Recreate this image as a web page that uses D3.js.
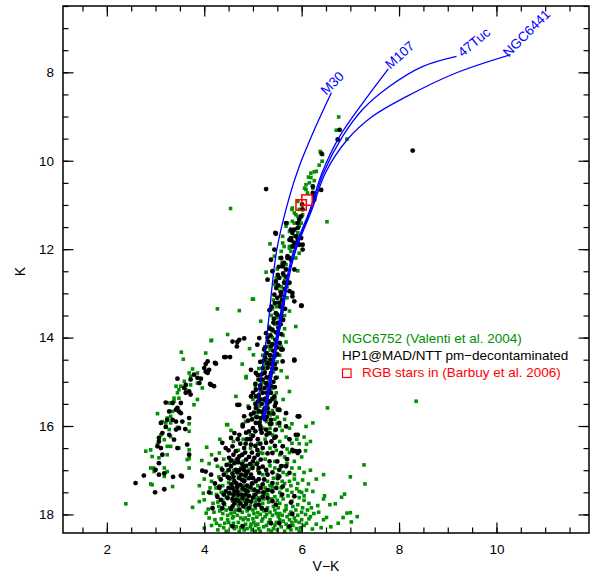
<!DOCTYPE html>
<meta charset="utf-8">
<script src="https://d3js.org/d3.v7.min.js"></script>
<html>
<head>
<style>
body { margin: 0; background: #fff; }
text { font-family: "Liberation Sans", Arial, sans-serif; }
</style>
</head>
<body>
<svg id="cmd" width="595" height="573"></svg>
<script>

// ---- data: [V-K, K] ----

// NGC6752 (Valenti et al. 2004), green
var ngc6752 = [
  [4.54,11.08],[6.52,11.38],[5.92,12.49],[8.35,15.44],[6.76,9.01],[6.71,9.31],[6.93,9.51],[6.38,9.79],
  [6.43,9.86],[6.36,10.10],[6.19,10.28],[6.26,10.25],[6.19,10.38],[6.09,10.54],[6.16,10.50],[6.06,10.62],
  [6.23,10.62],[6.12,10.73],[6.42,10.01],[6.30,10.24],[6.14,10.37],[6.26,10.45],[6.09,10.65],[5.92,10.92],
  [5.81,11.07],[5.95,11.10],[5.88,11.22],[6.02,11.22],[5.81,11.37],[5.71,11.41],[5.99,11.41],[5.68,11.48],
  [5.75,11.60],[5.61,11.71],[5.85,11.71],[5.92,11.63],[5.35,11.88],[5.61,11.86],[5.64,11.94],[5.75,11.98],
  [5.58,12.05],[5.78,12.05],[5.95,12.09],[5.44,12.16],[5.88,12.20],[5.80,11.10],[5.85,11.18],[5.92,11.26],
  [5.85,11.41],[5.95,11.48],[5.92,11.67],[5.81,11.82],[5.92,11.86],[5.75,11.94],[5.85,11.94],
  [5.27,12.52],[5.01,13.13],[4.72,13.39],[5.16,13.63],[4.48,13.93],[5.01,14.39],[5.23,14.61],[4.86,14.91],
  [5.75,15.22],[4.65,15.33],[6.53,15.59],[6.23,15.93],[6.09,16.01],[4.46,15.97],[4.99,13.13],[4.27,13.35],
  [5.88,13.75],[5.60,12.30],[5.50,12.45],[5.65,12.70],[5.45,12.80],[5.55,12.95],[5.70,13.10],[5.42,13.15],
  [5.60,13.40],[5.48,13.30],[5.38,13.50],[5.55,13.55],[5.65,13.80],[5.45,13.70],[5.33,13.75],[5.50,13.95],
  [5.40,14.00],[5.58,14.20],[5.30,14.20],[5.47,14.35],[5.38,14.40],[5.20,14.40],[5.50,14.55],[5.32,14.62],
  [5.42,14.78],[5.25,14.75],[5.12,14.70],[5.50,14.90],[5.33,14.95],[5.20,15.02],[5.10,14.95],[5.40,15.15],
  [5.30,15.30],[5.18,15.20],[5.05,15.10],[5.00,15.40],[5.14,15.55],[5.30,15.55],[5.40,15.65],[4.90,15.55],
  [5.05,15.80],[5.28,15.90],[5.50,15.80],[4.85,15.90],[5.62,15.40],[5.70,14.90],[5.68,14.10],[5.75,13.40],
  [4.93,14.25],[4.78,14.60],
  [5.55,16.00],[5.15,15.90],[5.45,15.85],[5.22,15.65],[5.35,15.75],[5.55,15.65],[5.08,15.60],[5.25,15.45],
  [5.45,15.40],[5.12,15.35],[5.35,15.05],[5.48,15.25],[5.15,14.85],[5.58,14.75],[5.40,14.50],[5.28,14.50],
  [5.55,14.40],[5.45,14.15],[5.35,14.28],[5.62,13.95],[5.40,13.85],[5.55,13.65],[5.48,13.55],[5.65,13.50],
  [5.52,13.20],[5.62,13.25],[5.40,13.35],[5.58,12.85],[5.70,12.85],[5.48,12.65],[5.62,12.60],[5.55,12.20],
  [5.68,12.35],
  [3.53,14.33],[3.57,14.49],[4.03,14.35],[4.14,14.07],[3.76,14.71],[3.69,14.80],[3.86,14.80],[3.72,14.88],
  [3.86,15.03],[3.96,15.14],[3.59,14.99],[3.52,15.10],[3.42,15.10],[3.48,15.18],[3.62,15.18],[3.72,15.07],
  [3.45,15.25],[3.48,15.37],[3.38,15.37],[3.38,15.44],[3.86,15.40],[3.79,15.52],[3.28,15.48],[3.04,15.72],
  [3.35,15.67],[3.31,15.78],[3.24,15.82],[3.14,15.90],[3.21,15.93],[3.31,15.93],[3.28,16.08],[3.11,16.20],
  [3.18,16.31],[3.31,16.24],[3.04,16.42],[2.90,16.54],[2.80,16.57],[3.24,16.46],[3.31,16.46],[3.48,16.50],
  [3.69,16.54],[3.69,16.74],[3.24,16.65],[3.07,16.72],[2.93,16.69],[2.90,16.95],[2.96,16.95],[3.18,16.95],
  [3.24,17.03],[3.18,17.14],[2.93,17.33],[3.35,17.37],[3.69,16.95],[2.39,17.76],[3.45,16.03],[3.69,16.12],
  [3.69,15.95],[4.15,14.06],[4.86,14.88],[3.65,16.76],[2.90,17.31],[2.97,17.03],
  [4.31,16.61],[4.48,15.97],[4.32,16.30],[4.15,16.65],[4.05,16.48],[4.60,16.35],[5.55,16.35],[5.70,16.52],
  [5.95,16.40],[6.10,16.41],[6.08,16.56],[6.18,16.35],[5.80,16.39],[5.65,16.70],[5.85,16.80],[4.27,16.91],
  [4.10,16.85],[3.95,16.78],[6.05,16.25],[5.35,16.50],[4.95,16.50],[5.10,16.40],[4.70,16.55],
  [6.18,17.00],[7.28,16.88],[7.00,17.15],[7.30,17.31],[6.14,17.31],[6.05,17.05],[5.95,16.95],[5.85,17.20],
  [5.70,17.10],[5.60,17.25],[5.45,16.95],[5.30,17.25],[5.10,17.00],[4.92,16.98],[4.60,17.00],[4.45,17.05],
  [4.30,17.15],[4.15,17.25],[4.00,17.20],[3.90,17.35],[6.30,17.20],[6.45,17.10],[5.78,17.35],[5.50,17.10],
  [4.85,17.20],[4.50,17.28],[4.24,17.40],[4.14,17.52],[4.00,17.67],[3.90,17.71],[3.76,17.84],[4.04,17.97],
  [4.10,18.08],[4.00,18.31],
  [6.10,17.45],[6.23,17.48],[6.47,17.58],[6.45,17.65],[6.88,17.54],[6.82,17.61],[6.00,17.50],[5.90,17.42],
  [5.80,17.50],[5.70,17.45],[5.62,17.65],[5.55,17.50],[5.45,17.60],[5.35,17.45],[5.25,17.55],[5.15,17.50],
  [5.08,17.65],[4.98,17.45],[4.88,17.62],[4.76,17.45],[4.68,17.62],[4.55,17.42],[4.45,17.60],[4.35,17.50],
  [4.28,17.72],[4.42,17.78],[4.58,17.70],[4.70,17.80],[4.82,17.70],[4.95,17.80],[5.05,17.72],[5.20,17.75],
  [5.32,17.72],[5.42,17.82],[5.55,17.75],[5.68,17.80],[5.80,17.70],[5.92,17.78],[6.05,17.68],[6.15,17.75],
  [6.33,17.80],[6.58,17.78],[6.69,17.76],[6.05,17.58],[5.95,17.62],[5.10,17.35],[5.00,17.30],[4.80,17.35],
  [4.65,17.40],
  [4.20,17.95],[4.32,17.92],[4.45,17.90],[4.55,17.98],[4.65,17.90],[4.78,17.95],[4.88,17.92],[5.00,17.90],
  [5.10,17.96],[5.22,17.92],[5.35,17.95],[5.45,17.90],[5.55,17.98],[5.65,17.92],[5.78,17.95],[5.88,17.90],
  [6.00,17.95],[6.12,17.90],[6.25,17.98],[6.51,18.07],[6.45,18.12],[6.93,17.97],[7.00,17.96],[6.85,18.07],
  [7.14,18.05],[7.02,18.17],[6.75,18.20],[6.60,18.28],[6.30,18.22],[6.10,18.20],[6.15,18.10],[6.00,18.12],
  [6.05,18.25],[5.98,18.30],[4.25,18.20],[4.35,18.10],[4.40,18.30],[4.50,18.18],[4.58,18.08],[4.62,18.32],
  [4.70,18.18],[4.75,18.08],[4.82,18.35],[4.90,18.12],[4.95,18.28],[5.02,18.18],[5.08,18.06],[5.12,18.32],
  [5.18,18.15],[5.25,18.05],[5.28,18.25],[5.35,18.12],[5.42,18.32],[5.48,18.18],[5.52,18.05],[5.58,18.28],
  [5.62,18.15],[5.70,18.05],[5.72,18.30],[5.80,18.18],[5.85,18.08],[5.90,18.32],[5.95,18.18],[4.15,18.25],
  [4.28,18.35],[4.55,18.25],[4.85,18.22],[5.05,18.38],[5.38,18.38],[5.65,18.38],[4.72,18.38],
  [4.30,17.82],[4.38,17.98],[4.48,18.02],[4.52,17.85],[4.62,17.95],[4.68,18.02],[4.72,17.88],[4.85,17.85],
  [4.92,18.02],[5.02,17.98],[5.05,17.86],[5.15,18.00],[5.18,17.88],[5.28,18.00],[5.30,17.85],[5.40,18.02],
  [5.48,17.98],[5.52,17.85],[5.60,18.02],[5.68,17.88],[5.75,18.00],[5.82,17.82],[5.92,18.02],[6.02,17.85],
  [6.08,18.00],[6.20,17.85],[6.35,17.95],[6.40,18.30],[6.22,18.33],[6.18,18.05],[4.22,18.12],[4.32,18.25],
  [4.45,18.38],[4.48,18.12],[4.60,18.20],[4.66,18.28],[4.78,18.25],[4.80,18.12],[4.88,18.32],[4.98,18.35],
  [5.00,18.10],[5.10,18.22],[5.15,18.38],[5.22,18.28],[5.32,18.35],[5.32,18.18],[5.45,18.25],[5.50,18.35],
  [5.55,18.12],[5.68,18.22],[5.78,18.35],[5.82,18.25],[5.88,18.15],[5.95,18.38],[5.75,18.12],[4.38,17.68],
  [4.50,17.55],[4.62,17.55],[4.74,17.65],[4.90,17.70],[5.02,17.55],[5.12,17.62],[5.22,17.65],[5.30,17.55],
  [5.38,17.65],[5.50,17.68],[5.58,17.58],[5.72,17.58],[5.85,17.58],[5.95,17.48],[5.40,17.38],[5.25,17.40],
  [5.58,17.40],[5.75,17.25],[5.92,17.30],[6.02,17.22],[4.38,17.35],[4.25,17.55],[4.18,17.75],[4.08,17.88],
  [4.12,17.40],[3.98,17.52],[5.42,17.18],[5.28,17.05],[5.62,17.05],[5.80,16.95],[5.70,16.85],[4.40,16.75],
  [4.35,16.95],[4.52,16.85],[5.10,16.82],[5.20,16.62],[5.48,16.55],[5.62,16.45],[5.68,16.25],[5.45,16.10],
  [5.30,16.15],[4.60,18.05],[4.84,18.08],[4.96,18.22],[5.20,18.10],[4.42,18.20],[4.75,18.30],[5.05,18.25],
  [4.60,16.78],[4.80,16.80],[5.00,16.90],[4.70,17.15],[4.90,17.40],[4.55,17.20],[5.20,17.10],[4.75,16.95],
  [5.15,16.60],[5.25,16.30],[5.40,16.20],[5.60,16.10],[5.50,15.95],[5.35,16.05],[5.75,16.05],[5.20,16.05],
  [5.65,15.85],[5.80,15.95],[5.10,15.70],[4.95,16.20],[4.80,16.30],[4.55,16.10],[5.55,16.65],[5.45,16.80],
  [5.35,16.90],[5.25,16.75],[5.60,16.90],[5.75,16.60],[6.00,16.70],[5.90,16.30],[5.50,17.30],[5.35,17.35],
  [5.65,17.30],[5.85,17.10]
];

// HP1 @ MAD/NTT, proper-motion decontaminated, black
var hp1 = [
  [8.28,9.77],[5.27,10.64],[6.78,9.30],[6.74,9.52],[6.41,9.84],[6.40,10.66],[6.23,10.73],[6.26,10.81],
  [6.23,10.58],[6.26,10.88],[6.01,10.99],[6.02,11.10],[5.99,11.26],[5.95,11.33],[5.92,11.41],[5.85,11.56],
  [5.92,11.52],[5.78,11.56],[5.81,11.63],[5.78,11.75],[5.88,11.71],[5.99,11.75],[6.02,11.90],[5.85,11.86],
  [6.02,12.01],[5.95,11.90],[5.81,11.94],[5.92,11.79],[5.78,11.79],[5.47,11.65],[5.44,12.01],[5.46,11.63],
  [5.68,11.41],[5.75,11.79],[5.71,12.16],[5.64,12.31],[5.61,12.39],[5.54,12.65],[5.47,12.73],[5.30,12.69],
  [5.68,12.62],[5.85,12.46],[5.78,12.24],[5.75,12.20],[5.71,12.20],[5.75,12.76],[5.37,12.24],[5.58,12.20],
  [5.51,12.58],[5.68,12.46],[5.61,12.35],[5.64,12.76],[5.75,12.95],[5.81,13.07],[5.85,13.18],[5.99,13.28],
  [5.44,13.03],[5.34,13.38],[5.54,13.22],[5.58,13.52],[5.51,13.67],[5.40,13.82],[5.27,13.90],[5.13,14.01],
  [4.82,14.02],[4.58,14.09],[4.67,14.20],[4.44,14.44],[4.53,14.44],[5.09,14.16],[5.23,14.27],[5.37,14.20],
  [5.61,14.27],[5.85,14.50],[5.44,14.43],[5.30,14.58],[5.20,14.69],[4.96,14.73],[5.06,14.80],[5.37,14.80],
  [5.47,14.91],[5.13,14.95],[5.27,15.03],[5.37,15.10],[5.06,15.18],[5.20,15.25],[5.44,15.33],[4.96,15.33],
  [4.68,15.52],[5.30,15.48],[5.06,15.59],[5.51,15.63],[4.82,15.78],[5.16,15.82],[5.37,15.86],[5.95,15.78],
  [5.81,12.99],[5.61,14.54],[5.58,14.27],[6.00,13.28],
  [5.50,13.10],[5.56,13.30],[5.47,13.45],[5.62,13.60],[5.43,13.58],[5.52,13.78],[5.58,13.92],[5.36,13.95],
  [5.46,14.05],[5.55,14.12],[5.32,14.10],[5.42,14.30],[5.50,14.38],[5.28,14.35],[5.36,14.50],[5.45,14.60],
  [5.22,14.52],[5.30,14.68],[5.40,14.70],[5.18,14.83],[5.28,14.90],[5.42,15.00],[5.15,15.08],[5.24,15.14],
  [5.33,15.20],[5.12,15.30],[5.26,15.38],[5.35,15.44],[5.18,15.50],[5.10,15.45],[5.24,15.60],[5.32,15.70],
  [5.02,15.70],[5.12,15.66],[5.22,15.76],[5.45,15.55],[5.57,13.05],[5.65,12.90],[5.48,12.88],[5.58,12.98],
  [5.40,12.50],[5.53,12.40],[5.62,12.55],
  [5.52,12.82],[5.60,13.15],[5.45,13.22],[5.38,13.30],[5.66,13.35],[5.50,13.48],[5.42,13.66],[5.57,13.70],
  [5.35,13.80],[5.47,13.88],[5.30,14.00],[5.40,14.15],[5.50,14.22],[5.25,14.22],[5.35,14.40],[5.25,14.45],
  [5.15,14.55],[5.38,14.60],[5.47,14.70],[5.24,14.80],[5.10,14.85],[5.35,14.88],[5.20,14.95],[5.30,15.08],
  [5.05,15.05],[5.45,15.12],[5.15,15.15],[5.28,15.25],[5.00,15.25],[5.40,15.38],[5.15,15.40],[5.05,15.50],
  [5.30,15.60],[5.18,15.68],[5.42,15.72],[5.08,15.80],[5.28,15.80],[4.98,15.85],[5.38,15.95],[5.15,16.00],
  [5.05,16.12],[5.28,16.20],[4.95,16.30],[5.38,16.35],[5.15,16.40],[4.85,16.40],[5.05,16.45],
  [4.41,14.44],[4.24,14.59],[4.07,14.54],[4.00,14.69],[4.07,14.80],[4.03,14.77],[4.10,14.73],[4.14,15.07],
  [4.20,15.10],[3.79,14.84],[3.86,14.91],[3.93,14.93],[3.72,14.95],[3.45,14.93],[3.62,15.07],[3.59,15.14],
  [3.69,15.22],[3.90,15.03],[3.62,15.25],[3.72,15.29],[3.21,15.47],[3.35,15.48],[3.52,15.48],[3.45,15.59],
  [3.48,15.67],[3.42,15.63],[3.52,15.71],[3.28,15.67],[3.69,15.82],[3.24,15.86],[3.35,15.86],[3.42,15.90],
  [3.11,15.93],[3.21,16.02],[3.48,16.05],[3.42,16.08],[3.61,16.07],[3.28,16.20],[3.14,16.16],[3.07,16.27],
  [3.07,16.35],[3.04,16.46],[3.11,16.50],[3.38,16.31],[3.45,16.50],[3.65,16.42],[3.14,16.65],[3.69,16.65],
  [3.07,16.84],[3.00,16.99],[2.76,17.12],[3.07,17.10],[3.18,17.07],[3.36,17.15],[3.52,17.12],[2.59,17.29],
  [2.99,17.50],[3.18,17.43],[4.22,14.57],[4.12,15.05],[4.68,14.10],[4.72,14.05],[3.96,17.01],[3.55,15.90],
  [3.54,17.14],[4.03,14.60],
  [4.37,16.38],[4.55,16.27],[4.72,16.20],[4.79,16.01],[4.92,16.12],[5.06,15.93],[5.16,16.08],[5.34,16.16],
  [5.47,16.08],[5.54,15.93],[5.68,16.01],[5.92,16.20],[5.44,16.27],[5.27,16.38],[4.44,16.50],[4.58,16.46],
  [4.65,16.57],[4.82,16.50],[4.96,16.42],[5.09,16.54],[5.40,16.61],[5.58,16.61],[5.88,16.57],[4.24,16.76],
  [4.51,16.72],[4.72,16.69],[4.86,16.76],[5.03,16.72],[5.16,16.76],[5.34,16.80],[4.03,17.03],[4.37,16.99],
  [4.55,16.91],[4.65,16.99],[4.79,16.95],[4.89,17.03],[4.99,16.95],[5.13,17.06],[5.27,16.99],[5.54,16.99],
  [5.68,16.91],[4.34,17.21],[4.51,17.18],[4.62,17.25],[4.72,17.18],[4.82,17.25],[4.92,17.18],[5.06,17.25],
  [5.23,17.21],[5.40,17.29],[5.51,17.18],[4.31,17.40],[4.44,17.48],[4.58,17.40],[4.68,17.48],[4.79,17.40],
  [4.89,17.48],[5.03,17.44],[5.16,17.40],[5.40,17.48],[5.61,17.37],[4.34,17.67],[4.48,17.63],[4.65,17.67],
  [4.79,17.63],[4.96,17.71],[5.13,17.67],[5.30,17.63],[4.17,17.86],[4.37,17.86],[4.58,17.82],[4.72,17.90],
  [4.92,17.86],[5.27,17.90],[5.47,17.78],[4.58,18.27],[4.79,18.27],[5.75,18.27],[5.37,18.20],[5.81,17.99],
  [5.06,15.33],[5.23,15.40],[5.37,15.25],[5.47,15.48],[5.54,15.63],[5.68,15.71],[5.92,15.78],[5.88,16.20],
  [5.47,16.24],[5.27,16.08],[5.13,15.93],[4.96,15.74],[4.92,15.59],[4.72,15.52],[4.79,15.97],[4.62,16.16],
  [5.81,16.54],[5.95,16.57],[5.61,16.46],[5.58,16.91],[5.54,17.14],[5.75,17.06],[5.85,17.59],[5.54,18.20],
  [4.31,17.37],[5.85,14.52],[5.94,15.78],[5.83,16.57],[5.92,16.61],[5.78,17.73],
  [4.70,16.82],[4.78,16.86],[4.86,16.90],[4.62,16.84],[4.94,16.86],[4.68,17.05],[4.76,17.10],[4.84,17.12],
  [4.58,17.08],[4.96,17.10],[4.66,17.30],[4.74,17.33],[4.88,17.35],[4.56,17.32],[4.98,17.30],[4.70,17.55],
  [4.60,17.56],[4.84,17.55],[4.92,17.58],[4.52,17.52],[4.74,17.75],[4.86,17.76],[4.62,17.75],[5.05,17.80],
  [4.84,16.60],[4.98,16.60],
  [4.74,16.40],[5.10,16.30],[5.00,16.22],[4.88,16.30],[5.20,16.50],[5.30,16.62],[5.08,16.86],[5.20,16.92],
  [4.46,16.88],[4.40,17.10],[5.12,17.20],[5.20,17.32],[5.30,17.10],[5.05,17.55],[5.22,17.50],[4.40,17.55],
  [4.27,17.60],[5.40,17.70],[4.22,17.30],[4.14,17.10],[4.10,17.50],[5.60,17.55],[5.70,16.75],[5.75,16.30],
  [5.18,16.15],[5.35,15.95],[5.25,15.85],[4.90,15.88],[5.00,16.05],[4.86,16.15],[4.69,16.30],[4.50,16.55],
  [5.45,16.45],[5.50,16.80],[5.40,17.05],[5.48,17.40],[5.18,17.85],
  [4.60,16.65],[4.78,16.65],[4.92,16.70],[5.10,16.65],[4.55,16.78],[4.68,16.75],[5.00,16.80],[5.12,16.95],
  [4.82,17.00],[4.50,17.00],[4.72,17.00],[4.60,17.15],[4.86,17.08],[5.00,17.18],[4.48,17.15],[4.78,17.22],
  [4.68,17.38],[4.95,17.38],[4.84,17.45],[4.62,17.48],[4.50,17.40],[5.10,17.48],[4.76,17.55],[4.58,17.65],
  [4.88,17.68],[4.70,17.70],[5.00,17.62],[4.80,17.82],[4.55,17.88],[4.40,17.75],
  [5.20,17.60],[5.30,17.45],[5.12,17.78]
];

// RGB stars in Barbuy et al. 2006, red squares
var rgbStars = [[5.99,11.00],[6.11,10.89]];

// isochrone ridge lines, blue
var isoNames = ["M30", "M107", "47Tuc", "NGC6441"];
var isoM30 = [[5.09,15.56],[5.19,14.70],[5.30,13.82],[5.49,12.01],[5.75,10.81],[5.95,10.13],[6.28,9.25],[6.61,8.46]];
var isoM107 = [[5.20,15.86],[5.37,14.73],[5.51,13.82],[5.80,12.17],[6.17,11.11],[6.42,10.27],[6.78,9.45],[7.29,8.64],[7.78,7.92]];
var iso47Tuc = [[5.22,15.86],[5.39,14.73],[5.53,13.82],[5.82,12.17],[6.19,11.11],[6.45,10.27],[6.84,9.45],[7.25,8.84],[7.80,8.32],[8.48,7.87],[9.18,7.64]];
var isoNGC6441 = [[5.24,15.86],[5.41,14.73],[5.55,13.82],[5.84,12.17],[6.21,11.11],[6.49,10.27],[6.94,9.52],[7.45,9.00],[8.15,8.55],[9.18,8.01],[10.29,7.60]];

var xMajor = [2, 4, 6, 8, 10];
var yMajor = [8, 10, 12, 14, 16, 18];

var legendLabels = ["NGC6752 (Valenti et al. 2004)", "HP1@MAD/NTT pm\u2212decontaminated", "RGB stars in (Barbuy et al. 2006)"];

// ---- chart ----
var svg = d3.select("#cmd");
// note: "top" is a reserved window property, so use plot* names
var plotL = 63, plotR = 589, plotT = 6, plotB = 533;

var x = d3.scaleLinear().domain([1.1, 11.9]).range([plotL, plotR]);
var y = d3.scaleLinear().domain([6.5, 18.42]).range([plotT, plotB]);

var green = "#009000", blue = "#0000ff", red = "#ff0000";

// NGC6752 points
svg.append("g")
  .selectAll("rect")
  .data(ngc6752)
  .enter()
  .append("rect")
    .attr("x", function(d){ return x(d[0]) - 1.8 })
    .attr("y", function(d){ return y(d[1]) - 1.8 })
    .attr("width", 3.6)
    .attr("height", 3.6)
    .attr("fill", green);

// HP1 points
svg.append("g")
  .selectAll("circle")
  .data(hp1)
  .enter()
  .append("circle")
    .attr("cx", function(d){ return x(d[0]) })
    .attr("cy", function(d){ return y(d[1]) })
    .attr("r", 2.4)
    .attr("fill", "#000");

// isochrones
var isoData = [isoM30, isoM107, iso47Tuc, isoNGC6441];
var line = d3.line()
  .x(function(d){ return x(d[0]) })
  .y(function(d){ return y(d[1]) })
  .curve(d3.curveCatmullRom);

svg.append("g")
  .selectAll("path")
  .data(isoData)
  .enter()
  .append("path")
    .attr("d", line)
    .attr("fill", "none")
    .attr("stroke", blue)
    .attr("stroke-width", 1.3);

// labels at the tip of each isochrone: [dx, dy, angle]
var labelStyle = [[-5, 3, -45], [2, 1, -42], [6, 1, -39], [-2, 3, -45]];
svg.append("g")
  .selectAll("text")
  .data(isoNames)
  .enter()
  .append("text")
    .attr("transform", function(d, i){
      var tip = isoData[i][isoData[i].length - 1];
      var s = labelStyle[i];
      return "translate(" + (x(tip[0]) + s[0]) + "," + (y(tip[1]) + s[1]) + ") rotate(" + s[2] + ")";
    })
    .attr("fill", blue)
    .style("font-size", "13.5px")
    .text(function(d){ return d });

// red squares
svg.append("g")
  .selectAll("rect")
  .data(rgbStars)
  .enter()
  .append("rect")
    .attr("x", function(d){ return x(d[0]) - 5.2 })
    .attr("y", function(d){ return y(d[1]) - 5.2 })
    .attr("width", 10.4)
    .attr("height", 10.4)
    .attr("fill", "none")
    .attr("stroke", red)
    .attr("stroke-width", 1.5);

// axes, ticks inward on all four sides
function minorTicks(domain, step) {
  var out = [];
  for (var v = Math.ceil(domain[0] / step) * step; v <= domain[1] + 1e-9; v += step) out.push(+v.toFixed(2));
  return out;
}
var xMinor = minorTicks(x.domain(), 0.5);
var yMinor = minorTicks(y.domain(), 0.5);

function styleAxis(g) {
  g.select(".domain").remove();
  g.selectAll("line").attr("stroke", "#000").attr("stroke-width", 1.2);
  g.selectAll("text").style("font-size", "13.5px").attr("fill", "#000")
    .style("font-family", "'Liberation Sans', Arial, sans-serif");
}

svg.append("g").attr("transform", "translate(0," + plotB + ")")
  .call(d3.axisBottom(x).tickValues(xMinor).tickSize(-5.5).tickFormat(""))
  .call(styleAxis);
svg.append("g").attr("transform", "translate(0," + plotB + ")")
  .call(d3.axisBottom(x).tickValues(xMajor).tickSize(-10.5).tickPadding(11).tickFormat(d3.format("d")))
  .call(styleAxis);
svg.append("g").attr("transform", "translate(0," + plotT + ")")
  .call(d3.axisTop(x).tickValues(xMinor).tickSize(-5.5).tickFormat(""))
  .call(styleAxis);
svg.append("g").attr("transform", "translate(0," + plotT + ")")
  .call(d3.axisTop(x).tickValues(xMajor).tickSize(-10.5).tickFormat(""))
  .call(styleAxis);

svg.append("g").attr("transform", "translate(" + plotL + ",0)")
  .call(d3.axisLeft(y).tickValues(yMinor).tickSize(-5.5).tickFormat(""))
  .call(styleAxis);
svg.append("g").attr("transform", "translate(" + plotL + ",0)")
  .call(d3.axisLeft(y).tickValues(yMajor).tickSize(-10.5).tickPadding(9).tickFormat(d3.format("d")))
  .call(styleAxis);
svg.append("g").attr("transform", "translate(" + plotR + ",0)")
  .call(d3.axisRight(y).tickValues(yMinor).tickSize(-5.5).tickFormat(""))
  .call(styleAxis);
svg.append("g").attr("transform", "translate(" + plotR + ",0)")
  .call(d3.axisRight(y).tickValues(yMajor).tickSize(-10.5).tickFormat(""))
  .call(styleAxis);

// frame
svg.append("rect")
  .attr("x", plotL).attr("y", plotT)
  .attr("width", plotR - plotL).attr("height", plotB - plotT)
  .attr("fill", "none").attr("stroke", "#000").attr("stroke-width", 1.5);

// axis titles
svg.append("text")
  .attr("x", (plotL + plotR) / 2).attr("y", 571)
  .attr("text-anchor", "middle")
  .style("font-size", "14px")
  .text("V\u2212K");
svg.append("text")
  .attr("transform", "translate(25," + ((plotT + plotB) / 2 + 2) + ") rotate(-90)")
  .attr("text-anchor", "middle")
  .style("font-size", "14px")
  .text("K");

// legend
var legendColors = [green, "#000", red];
var legend = svg.append("g").attr("transform", "translate(342,343)");
legend.selectAll("text")
  .data(legendLabels)
  .enter()
  .append("text")
    .attr("x", function(d, i){ return i == 2 ? 20 : 0 })
    .attr("y", function(d, i){ return i * 17.2 })
    .attr("fill", function(d, i){ return legendColors[i] })
    .style("font-size", "13.5px")
    .text(function(d){ return d });
legend.append("rect")
  .attr("x", 0.5).attr("y", 26).attr("width", 8.5).attr("height", 8.5)
  .attr("fill", "none").attr("stroke", red).attr("stroke-width", 1.2);

</script>
</body>
</html>
